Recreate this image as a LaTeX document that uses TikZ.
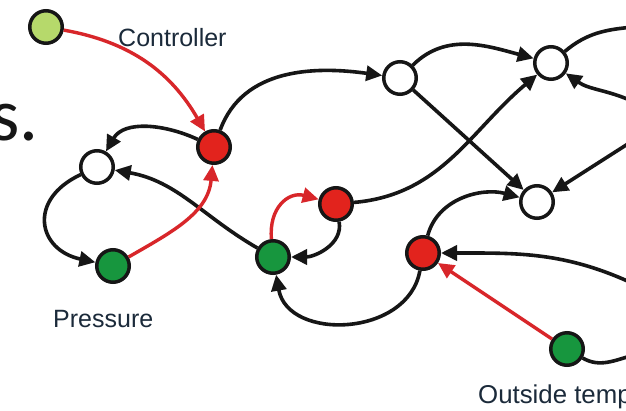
\documentclass[tikz,border=0pt]{standalone}
\usepackage{fontspec}
\setmainfont{Liberation Sans}
\newfontfamily\slidefont{Carlito}
\usetikzlibrary{arrows.meta}

\definecolor{nodered}{HTML}{E2231D}
\definecolor{nodegreen}{HTML}{17963E}
\definecolor{nodelime}{HTML}{B6D96B}
\definecolor{edgered}{HTML}{D8262A}
\definecolor{ink}{HTML}{161616}
\definecolor{labelink}{HTML}{1B2A3A}

\tikzset{
  vertex/.style={circle, draw=ink, line width=3.5pt, minimum size=32.5pt, inner sep=0pt},
  redvertex/.style={vertex, fill=nodered},
  greenvertex/.style={vertex, fill=nodegreen},
  limevertex/.style={vertex, fill=nodelime},
  whitevertex/.style={vertex, fill=white},
  tip/.style={-{Triangle[length=16pt,width=15pt]}},
  bedge/.style={draw=ink, line width=3.6pt, tip},
  redge/.style={draw=edgered, line width=3.4pt, -{Triangle[length=16pt,width=15pt,fill=edgered]}},
  plainedge/.style={draw=ink, line width=3.6pt},
  lbl/.style={font=\fontsize{25}{30}\selectfont, text=labelink, inner sep=0pt, anchor=base west},
}

\begin{document}
\begin{tikzpicture}[x=1pt,y=1pt]
\useasboundingbox (0,0) rectangle (626,-410);
\clip (0,0) rectangle (626,-410);
\fill[white] (0,0) rectangle (626,-410);

% slide text cut at the left edge
\node[inner sep=0pt, anchor=base west, text=ink, font=\slidefont\fontsize{75}{80}\selectfont] (slidetext) at (-10,-140) {s.};

% vertices
\node[limevertex]  (A) at (46,-27) {};
\node[redvertex]   (B) at (214,-147) {};
\node[whitevertex] (C) at (97,-167) {};
\node[greenvertex] (D) at (113,-266) {};
\node[greenvertex] (E) at (273,-257) {};
\node[redvertex]   (F) at (336,-204) {};
\node[whitevertex] (G) at (400,-78) {};
\node[whitevertex] (H) at (551,-63) {};
\node[whitevertex] (I) at (537,-202) {};
\node[redvertex]   (J) at (423,-253) {};
\node[greenvertex] (K) at (567,-349) {};

% loose ends running past the right edge
\coordinate (r1) at (634,-27);
\coordinate (r2) at (634,-102);
\coordinate (r3) at (634,-140);
\coordinate (r4) at (634,-284);
\coordinate (r5) at (634,-355);

% labels
\node[lbl] (lc) at (118,-46) {Controller};
\node[lbl] (lp) at (53,-327) {Pressure};
\node[lbl, font=\fontsize{25.8}{30}\selectfont] (lo) at (478,-403) {Outside temp};

% black connections
\draw[bedge] (B) to[out=155,in=60] (C);
\draw[bedge] (B) to[out=70,in=172] (G);
\draw[bedge] (C) to[out=205,in=168,looseness=1.7] (D);
\draw[bedge] (E) to[out=150,in=-10] (C);
\draw[bedge] (F) to[out=-80,in=0] (E);
\draw[bedge] (F) to[out=5,in=-140] (H);
\draw[bedge] (G) -- (I);
\draw[bedge] (G) to[out=45,in=165] (H);
\draw[plainedge] (H) to[out=40,in=185] (r1);
\draw[bedge] (r2) to[out=155,in=-35] (H);
\draw[bedge] (r3) -- (I);
\draw[bedge] (J) to[out=75,in=165] (I);
\draw[bedge] (r4) to[out=155,in=0] (J);
\draw[bedge] (J) to[out=-100,in=-80,looseness=1.2] (E);
\draw[plainedge] (K) to[out=-30,in=195] (r5);

% red connections
\draw[redge] (A) to[out=-10,in=120] (B);
\draw[redge] (D) to[out=30,in=-95] (B);
\draw[redge] (E) to[out=95,in=165,looseness=1.3] (F);
\draw[redge] (K) -- (J);
\end{tikzpicture}
\end{document}
